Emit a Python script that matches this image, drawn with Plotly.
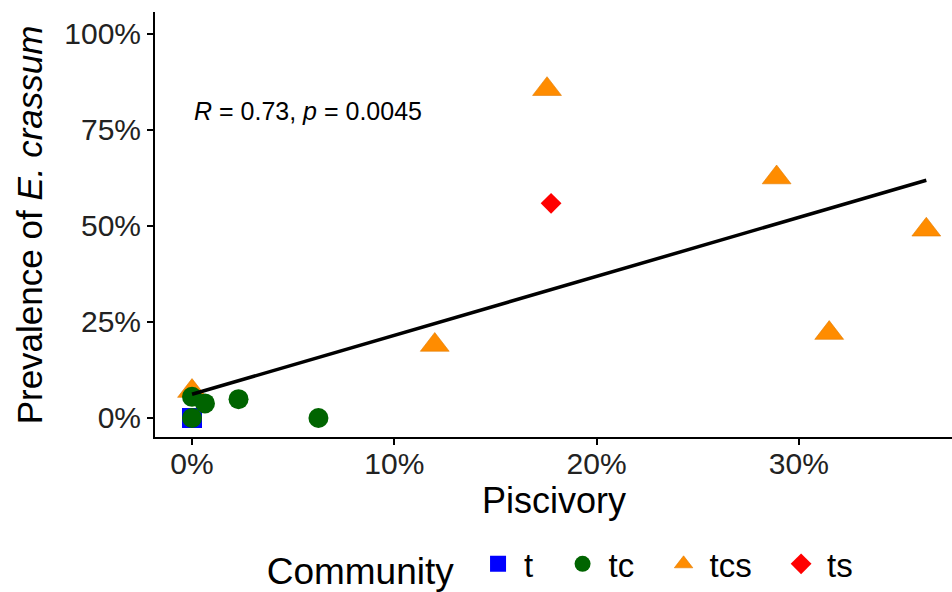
import numpy as np
import plotly.graph_objects as go

# Data (percent values)
t_x = [0.0]
t_y = [0.0]
tc_x = [0.0, 0.64, 2.3, 0.0, 6.25]
tc_y = [5.5, 3.8, 4.9, 0.0, 0.0]
tcs_x = [0.0, 12.0, 17.55, 28.9, 31.5, 36.3]
tcs_y = [7.0, 19.0, 85.6, 62.6, 22.1, 49.0]
ts_x = [17.75]
ts_y = [55.9]

x_ticks = [0, 10, 20, 30]
x_ticklabels = ["0%", "10%", "20%", "30%"]
y_ticks = [0, 25, 50, 75, 100]
y_ticklabels = ["0%", "25%", "50%", "75%", "100%"]
stat_label = "<i>R</i> = 0.73, <i>p</i> = 0.0045"

FONT = "Liberation Sans, Arial, sans-serif"
NB = "\u00a0"

all_x = np.array(t_x + tc_x + tcs_x + ts_x)
all_y = np.array(t_y + tc_y + tcs_y + ts_y)
slope, intercept = np.polyfit(all_x, all_y, 1)
line_x = np.array([all_x.min(), all_x.max()])
line_y = intercept + slope * line_x

fig = go.Figure()
fig.add_trace(go.Scatter(x=t_x, y=t_y, mode="markers", name="t" + NB * 2, legendrank=1,
                         marker=dict(symbol="square", size=20, color="#0000FF", line=dict(width=0))))
fig.add_trace(go.Scatter(x=tcs_x, y=tcs_y, mode="markers", name="tcs" + NB * 2, legendrank=3,
                         marker=dict(symbol="triangle-up", size=25, color="#FF8C00",
                                     line=dict(width=0.6, color="#E07A00"))))
fig.add_trace(go.Scatter(x=ts_x, y=ts_y, mode="markers", name="ts", legendrank=4,
                         marker=dict(symbol="diamond", size=16, color="#FF0000", line=dict(width=0))))
fig.add_trace(go.Scatter(x=tc_x, y=tc_y, mode="markers", name="tc" + NB * 2, legendrank=2,
                         marker=dict(symbol="circle", size=20, color="#006400", line=dict(width=0))))
fig.add_trace(go.Scatter(x=line_x, y=line_y, mode="lines", showlegend=False,
                         line=dict(color="black", width=3.5)))

fig.add_annotation(x=0, y=80, xref="x", yref="y", text=stat_label, showarrow=False,
                   xanchor="left", yanchor="middle", font=dict(family=FONT, size=25, color="black"))
fig.add_annotation(x=0.5, y=-0.150, xref="paper", yref="paper", text="Piscivory", showarrow=False,
                   xanchor="center", yanchor="middle", font=dict(family=FONT, size=36, color="black"))
fig.add_annotation(x=-0.157, y=0.5, xref="paper", yref="paper", text="Prevalence of <i>E. crassum</i>",
                   showarrow=False, textangle=-90, xanchor="center", yanchor="middle",
                   font=dict(family=FONT, size=35, color="black"))

fig.update_layout(
    width=952, height=592,
    margin=dict(l=155, r=0, t=12, b=155),
    paper_bgcolor="white", plot_bgcolor="white",
    font=dict(family=FONT, color="black"),
    xaxis=dict(range=[-1.83, 37.57], tickvals=x_ticks, ticktext=x_ticklabels,
               showgrid=False, zeroline=False, showline=True, linecolor="black", linewidth=2,
               ticks="outside", ticklen=6, tickwidth=1.5, tickcolor="black", ticklabelstandoff=-7,
               tickfont=dict(family=FONT, size=30, color="#222222")),
    yaxis=dict(range=[-4.95, 105.7], tickvals=y_ticks, ticktext=y_ticklabels,
               showgrid=False, zeroline=False, showline=True, linecolor="black", linewidth=2,
               ticks="outside", ticklen=6, tickwidth=1.5, tickcolor="black",
               tickfont=dict(family=FONT, size=30, color="#222222")),
    legend=dict(orientation="h", xref="container", yref="container",
                x=0.278, xanchor="left", y=0.045, yanchor="middle",
                title=dict(text="Community" + NB, side="left", font=dict(family=FONT, size=37)),
                font=dict(family=FONT, size=33), itemwidth=42, tracegroupgap=0),
    showlegend=True,
)

fig.write_html("out.html")
